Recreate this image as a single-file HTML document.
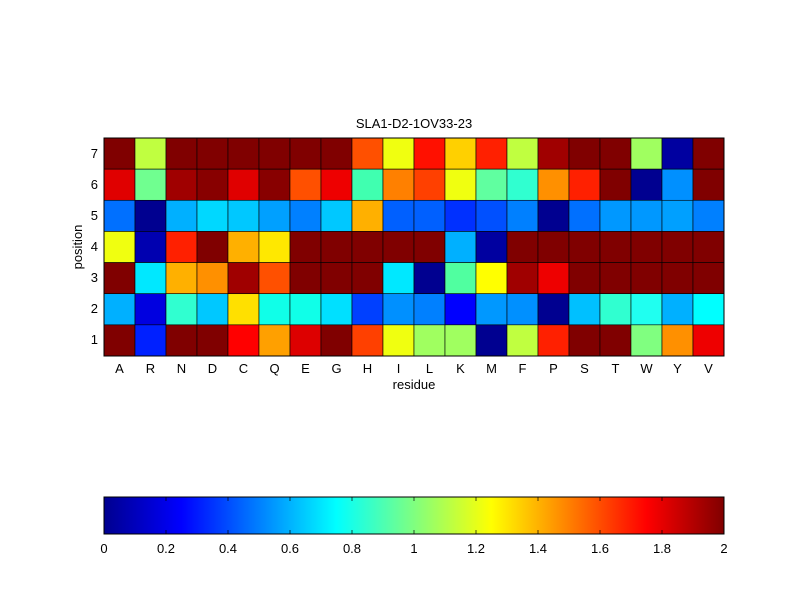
<!DOCTYPE html>
<html><head><meta charset="utf-8"><style>body{margin:0;background:#fff}svg{display:block}text{font-family:"Liberation Sans",Arial,sans-serif;font-size:13px;fill:#000}</style></head>
<body>
<svg id="s" width="800" height="600" xmlns="http://www.w3.org/2000/svg">
<defs><linearGradient id="jet" x1="0" x2="1" y1="0" y2="0">
<stop offset="0" stop-color="#00008f"/><stop offset="0.125" stop-color="#0000ff"/><stop offset="0.375" stop-color="#00ffff"/><stop offset="0.625" stop-color="#ffff00"/><stop offset="0.875" stop-color="#ff0000"/><stop offset="1" stop-color="#800000"/></linearGradient></defs>
<rect width="800" height="600" fill="#fff"/>
<g id="cells"></g>
<rect x="104" y="138" width="620" height="218" fill="none" stroke="#000" stroke-width="1"/>
<text x="414" y="128" text-anchor="middle">SLA1-D2-1OV33-23</text>
<g text-anchor="end">
<text x="98" y="158">7</text><text x="98" y="189">6</text><text x="98" y="220">5</text><text x="98" y="251">4</text><text x="98" y="282">3</text><text x="98" y="313">2</text><text x="98" y="344">1</text>
</g>
<text transform="translate(82,247) rotate(-90)" text-anchor="middle">position</text>
<g text-anchor="middle">
<text x="119.5" y="373">A</text><text x="150.5" y="373">R</text><text x="181.5" y="373">N</text><text x="212.5" y="373">D</text><text x="243.5" y="373">C</text><text x="274.5" y="373">Q</text><text x="305.5" y="373">E</text><text x="336.5" y="373">G</text><text x="367.5" y="373">H</text><text x="398.5" y="373">I</text><text x="429.5" y="373">L</text><text x="460.5" y="373">K</text><text x="491.5" y="373">M</text><text x="522.5" y="373">F</text><text x="553.5" y="373">P</text><text x="584.5" y="373">S</text><text x="615.5" y="373">T</text><text x="646.5" y="373">W</text><text x="677.5" y="373">Y</text><text x="708.5" y="373">V</text>
<text x="414" y="389">residue</text>
</g>
<rect x="104" y="497" width="620" height="37" fill="url(#jet)" stroke="#000" stroke-width="1"/>
<g id="ticks" stroke="#000" stroke-width="0.7"></g>
<g text-anchor="middle">
<text x="104" y="553">0</text><text x="166" y="553">0.2</text><text x="228" y="553">0.4</text><text x="290" y="553">0.6</text><text x="352" y="553">0.8</text><text x="414" y="553">1</text><text x="476" y="553">1.2</text><text x="538" y="553">1.4</text><text x="600" y="553">1.6</text><text x="662" y="553">1.8</text><text x="724" y="553">2</text>
</g>
</svg>
<script>
var D="#800000",rows=[
[D,"#c0ff40",D,D,D,D,D,D,"#ff5000","#f0ff10","#ff1000","#ffd000","#ff2000","#c0ff40","#a00000",D,D,"#a0ff60","#0000a0",D],
["#e00000","#70ff90","#a00000","#880000","#e00000","#880000","#ff5000","#ee0000","#40ffb0","#ff8000","#ff4000","#f0ff10","#60ffa0","#30ffd0","#ff9000","#ff2000",D,"#000090","#0090ff",D],
["#0070ff","#000090","#00b0ff","#00d8ff","#00c8ff","#00a0ff","#0080ff","#00c8ff","#ffb000","#0060ff","#0060ff","#0030ff","#0050ff","#0080ff","#000090","#0070ff","#0098ff","#0098ff","#00a0ff","#0080ff"],
["#f0ff10","#0000b0","#ff2000",D,"#ffb000","#ffe800",D,D,D,D,D,"#00b0ff","#0000a0",D,D,D,D,D,D,D],
[D,"#00e8ff","#ffb000","#ff9000","#a00000","#ff5000",D,D,D,"#00e8ff","#000090","#50ffa0","#ffff00","#a00000","#ee0000",D,D,D,D,D],
["#00b0ff","#0000e0","#30ffd0","#00c8ff","#ffe000","#10ffe8","#10ffe8","#00e0ff","#0040ff","#0090ff","#0080ff","#0000ff","#0098ff","#0090ff","#000090","#00c0ff","#30ffd0","#20fff0","#00b0ff","#00ffff"],
[D,"#0020ff",D,D,"#ff0000","#ffa000","#dd0000",D,"#ff4000","#f0ff10","#a0ff60","#a0ff60","#000090","#c0ff40","#ff2000",D,D,"#80ff80","#ff9000","#ee0000"]];
var g=document.getElementById("cells"),ns="http://www.w3.org/2000/svg",h=218/7;
rows.forEach(function(r,i){r.forEach(function(c,j){var e=document.createElementNS(ns,"rect");e.setAttribute("x",104+j*31);e.setAttribute("y",138+i*h);e.setAttribute("width",31);e.setAttribute("height",h);e.setAttribute("fill",c);e.setAttribute("stroke","#000");e.setAttribute("stroke-width","0.6");g.appendChild(e);});});
var t=document.getElementById("ticks");
for(var k=1;k<10;k++){var x=104+k*62;[[497,501],[530,534]].forEach(function(p){var l=document.createElementNS(ns,"line");l.setAttribute("x1",x);l.setAttribute("x2",x);l.setAttribute("y1",p[0]);l.setAttribute("y2",p[1]);t.appendChild(l);});}
</script>
</body></html>
